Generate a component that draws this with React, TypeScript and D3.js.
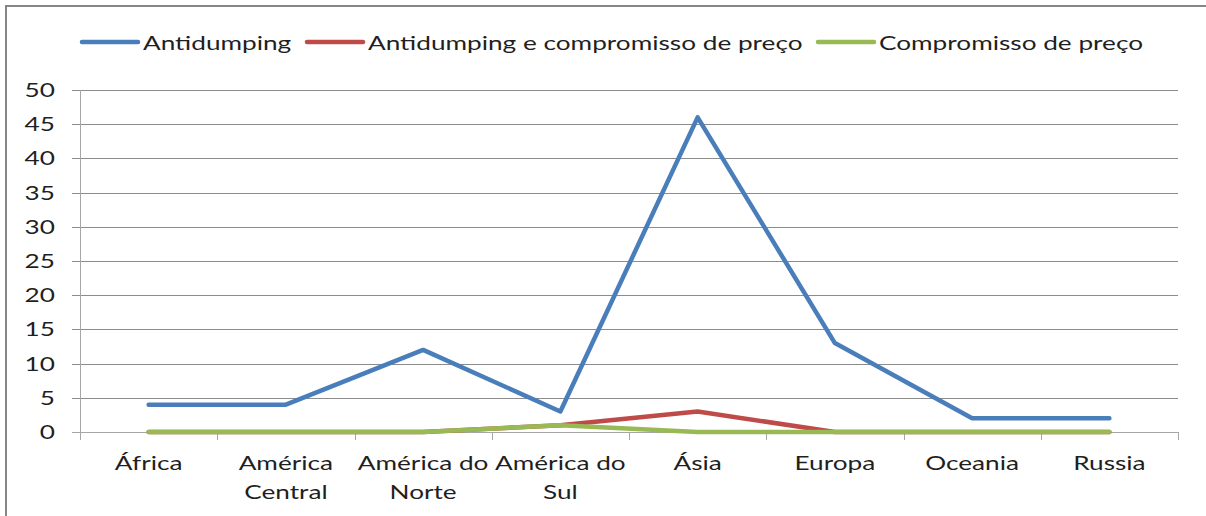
import React from "react";
import * as d3 from "d3";

// Regions (tick labels split onto the lines they wrap to)
const categories = [
  "África",
  "América Central",
  "América do Norte",
  "América do Sul",
  "Ásia",
  "Europa",
  "Oceania",
  "Russia",
];
const categoryLines = [
  ["África"],
  ["América", "Central"],
  ["América do", "Norte"],
  ["América do", "Sul"],
  ["Ásia"],
  ["Europa"],
  ["Oceania"],
  ["Russia"],
];

const seriesNames = [
  "Antidumping",
  "Antidumping e compromisso de preço",
  "Compromisso de preço",
];
const antidumping = [4, 4, 12, 3, 46, 13, 2, 2];
const antidumpingCompromisso = [0, 0, 0, 1, 3, 0, 0, 0];
const compromisso = [0, 0, 0, 1, 0, 0, 0, 0];
const yTicks = [0, 5, 10, 15, 20, 25, 30, 35, 40, 45, 50];

const colors = ["#4A7EBB", "#BE4B48", "#98B954"];

const W = 1206;
const H = 516;
const FONT = "Lato, 'Open Sans', sans-serif";
const FS = 20;
const SX = 1.31;

export default function App() {
  const x = d3.scaleBand<string>().domain(categories).range([80, 1178]);
  const y = d3.scaleLinear().domain([0, 50]).range([432, 90]);
  const cx = (c: string) => (x(c) as number) + x.bandwidth() / 2;

  const line = d3
    .line<number>()
    .x((_, i) => cx(categories[i]))
    .y((d) => y(d));

  const series = [antidumping, antidumpingCompromisso, compromisso];
  const legendX = [82, 307, 818];

  const txt = (
    key: string,
    tx: number,
    ty: number,
    s: string,
    anchor: "start" | "middle" | "end"
  ) => (
    <text
      key={key}
      transform={`translate(${tx},${ty}) scale(${SX},1)`}
      textAnchor={anchor}
      fontFamily={FONT}
      fontSize={FS}
      fill="#1f1f1f"
    >
      {s}
    </text>
  );

  return (
    <svg
      width={W}
      height={H}
      style={{ position: "absolute", left: 0, top: 0, background: "#fff" }}
    >
      <rect x={6} y={6} width={W + 20} height={H + 20} fill="#fff" stroke="#868686" strokeWidth={2} />

      {/* horizontal gridlines and y ticks */}
      {yTicks.map((t) => (
        <line
          key={"g" + t}
          x1={72}
          x2={1178}
          y1={Math.round(y(t)) + 0.5}
          y2={Math.round(y(t)) + 0.5}
          stroke={t === 0 ? "#a6a6a6" : "#8c8c8c"}
          strokeWidth={1}
        />
      ))}
      {yTicks.map((t) => txt("yl" + t, 55, y(t) + 7, String(t), "end"))}

      {/* y axis */}
      <line x1={80.5} x2={80.5} y1={90} y2={432} stroke="#a6a6a6" />

      {/* x axis ticks at band boundaries */}
      {d3.range(categories.length + 1).map((i) => {
        const xx = Math.round(80 + i * x.bandwidth()) + 0.5;
        return <line key={"xt" + i} x1={xx} x2={xx} y1={432} y2={440} stroke="#a6a6a6" />;
      })}

      {/* x labels */}
      {categories.map((c, i) =>
        categoryLines[i].map((l, j) => txt(`xl${i}-${j}`, cx(c), 470 + j * 29, l, "middle"))
      )}

      {/* series lines */}
      {series.map((s, k) => (
        <path
          key={"s" + k}
          d={line(s) as string}
          fill="none"
          stroke={colors[k]}
          strokeWidth={4.5}
          strokeLinejoin="round"
          strokeLinecap="round"
        />
      ))}

      {/* legend */}
      {seriesNames.map((n, k) => (
        <g key={"lg" + k}>
          <line
            x1={legendX[k]}
            x2={legendX[k] + 56}
            y1={42}
            y2={42}
            stroke={colors[k]}
            strokeWidth={4.5}
            strokeLinecap="round"
          />
          {txt("lt" + k, legendX[k] + 61, 50, n, "start")}
        </g>
      ))}
    </svg>
  );
}
